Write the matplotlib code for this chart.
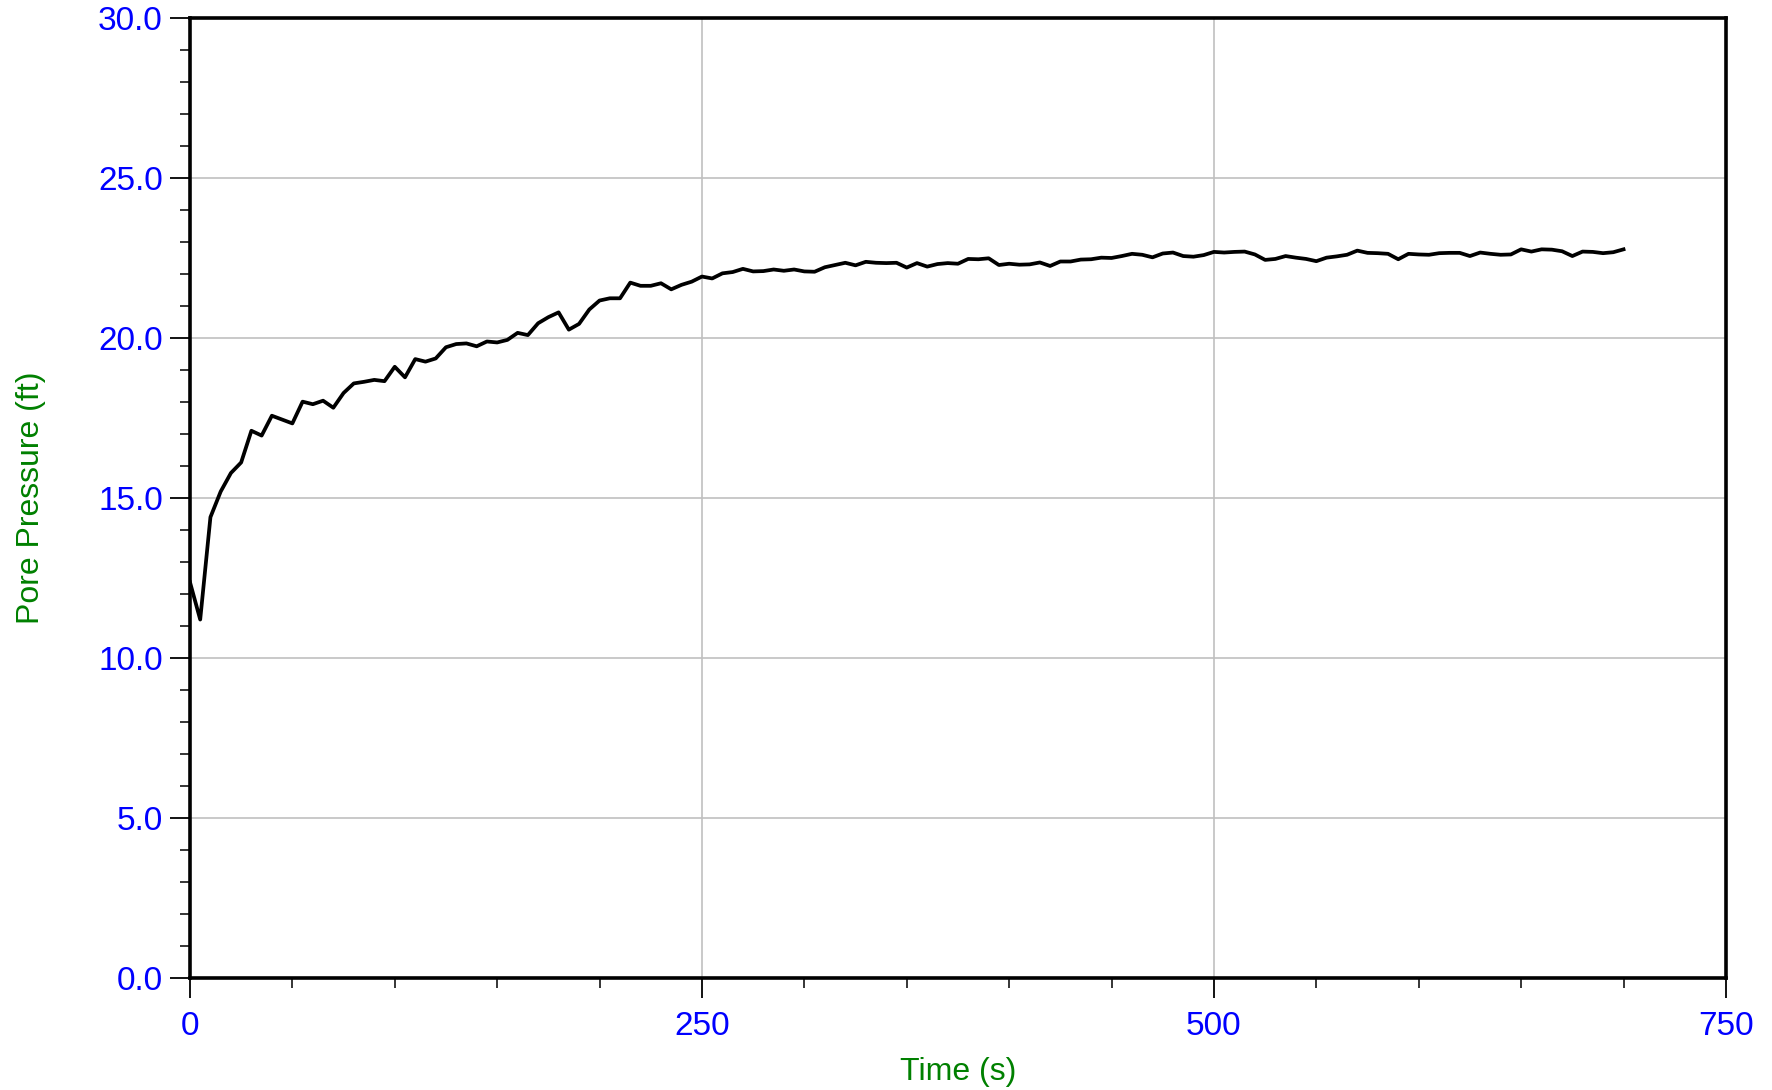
import matplotlib
matplotlib.use("Agg")
import matplotlib.pyplot as plt
from matplotlib.ticker import MultipleLocator, FormatStrFormatter
import numpy as np

# Time (s), sampled every 5 s from 0 to 700
time_s = np.arange(0, 705, 5)
pore_pressure_ft = [
    12.37, 11.20, 14.40, 15.20, 15.78, 16.11, 17.10, 16.95, 17.57, 17.45,
    17.33, 18.01, 17.93, 18.04, 17.82, 18.28, 18.58, 18.63, 18.69, 18.65,
    19.10, 18.77, 19.34, 19.26, 19.36, 19.71, 19.81, 19.83, 19.74, 19.89,
    19.86, 19.94, 20.16, 20.09, 20.46, 20.65, 20.80, 20.26, 20.44, 20.89,
    21.17, 21.24, 21.24, 21.73, 21.63, 21.63, 21.71, 21.52, 21.66, 21.76,
    21.92, 21.86, 22.02, 22.06, 22.16, 22.08, 22.09, 22.14, 22.10, 22.14,
    22.08, 22.07, 22.21, 22.28, 22.35, 22.27, 22.38, 22.35, 22.34, 22.35,
    22.20, 22.34, 22.23, 22.31, 22.34, 22.32, 22.47, 22.46, 22.49, 22.28,
    22.32, 22.29, 22.30, 22.36, 22.25, 22.39, 22.39, 22.45, 22.46, 22.51,
    22.50, 22.56, 22.63, 22.60, 22.52, 22.64, 22.67, 22.56, 22.54, 22.59,
    22.69, 22.67, 22.69, 22.70, 22.61, 22.44, 22.47, 22.56, 22.51, 22.47,
    22.40, 22.51, 22.55, 22.60, 22.73, 22.66, 22.65, 22.63, 22.46, 22.63,
    22.61, 22.60, 22.65, 22.66, 22.66, 22.56, 22.67, 22.63, 22.60, 22.61,
    22.77, 22.70, 22.77, 22.76, 22.71, 22.56, 22.70, 22.69, 22.65, 22.68,
    22.77,
]

x_label = "Time (s)"
y_label = "Pore Pressure (ft)"

plt.rcParams['font.family'] = ['Liberation Sans', 'DejaVu Sans']

fig = plt.figure(figsize=(17.72, 10.90), dpi=100)
ax = fig.add_axes([0.1072, 0.1028, 0.9740 - 0.1072, 0.9835 - 0.1028])

ax.plot(time_s, pore_pressure_ft, color='black', linewidth=2.7, zorder=3)

ax.set_xlim(0, 750)
ax.set_ylim(0, 30)
ax.xaxis.set_major_locator(MultipleLocator(250))
ax.xaxis.set_minor_locator(MultipleLocator(50))
ax.yaxis.set_major_locator(MultipleLocator(5))
ax.yaxis.set_minor_locator(MultipleLocator(1))
ax.yaxis.set_major_formatter(FormatStrFormatter('%.1f'))

ax.grid(True, which='major', color='#c0c0c0', linewidth=1.2, zorder=0)

for s in ax.spines.values():
    s.set_linewidth(2.6)
    s.set_color('black')
    s.set_zorder(4)

ax.tick_params(axis='both', which='major', direction='out', length=14.5, width=1.3,
               color='black', labelcolor='#0000ff', labelsize=24)
ax.tick_params(axis='both', which='minor', direction='out', length=7.5, width=1.1,
               color='black')
ax.tick_params(axis='x', which='major', pad=9)
ax.tick_params(axis='y', which='major', pad=5)

ax.set_xlabel(x_label, color='#008000', fontsize=23)
ax.set_ylabel(y_label, color='#008000', fontsize=23)
ax.xaxis.set_label_coords(0.5, -0.082)
ax.yaxis.set_label_coords(-0.094, 0.5)

fig.savefig("out.png", dpi=100)
